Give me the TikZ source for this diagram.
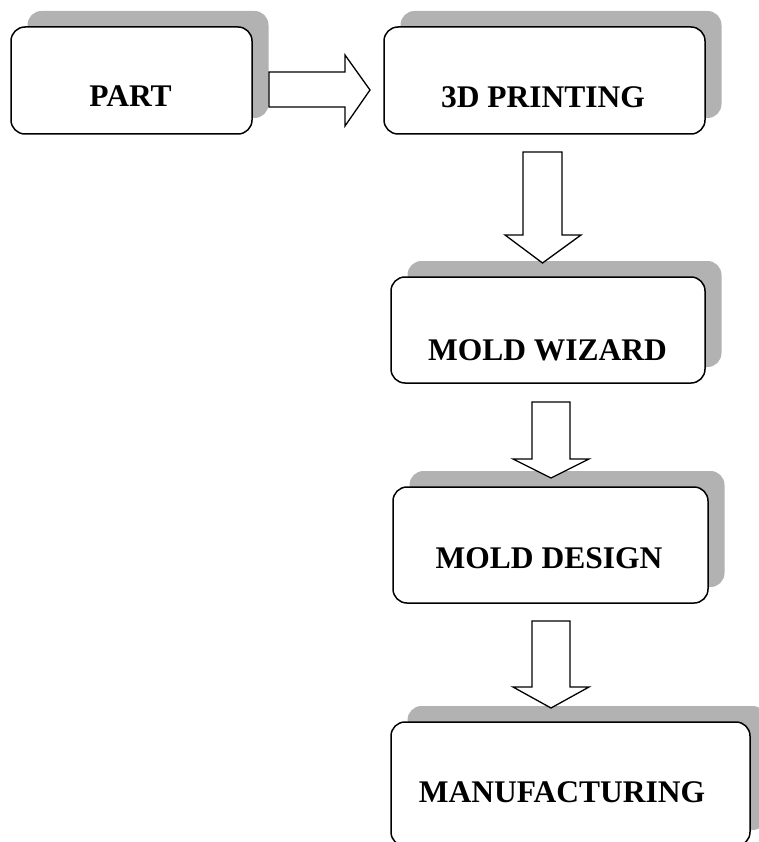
\documentclass[tikz,border=0pt]{standalone}
\usepackage{fontspec}
\setmainfont{Liberation Serif}
\usetikzlibrary{shadows,calc}
\definecolor{shadowgray}{RGB}{178,178,178}
\begin{document}
\begin{tikzpicture}[x=1pt,y=-1pt,
  stepbox/.style={draw=black, line width=1.5pt, fill=white, rounded corners=14pt,
    inner sep=0pt, drop shadow={shadow xshift=16.5pt, shadow yshift=16pt,
    fill=shadowgray, opacity=1}},
  lbl/.style={anchor=base, inner sep=0pt, font=\fontsize{31.5}{36}\selectfont\bfseries},
  blockarrow/.style={draw=black, line width=1.3pt, fill=white, line join=miter}]
\useasboundingbox (0,0) rectangle (759,842);
\clip (0,0) rectangle (759,842);
% boxes
\node[stepbox, minimum width=241pt, minimum height=107pt] (part) at (131.5,80.5) {};
\node[stepbox, minimum width=321pt, minimum height=107pt] (print) at (544.5,80.5) {};
\node[stepbox, minimum width=314pt, minimum height=106pt] (wizard) at (548,330) {};
\node[stepbox, minimum width=315pt, minimum height=116pt] (design) at (550.5,545) {};
\node[stepbox, minimum width=359pt, minimum height=124pt] (manuf) at (570.5,784) {};
% labels
\node[lbl] (tpart) at (130.5,107) {PART};
\node[lbl] (tprint) at (543,108) {3D PRINTING};
\node[lbl] (twizard) at (547.5,360) {MOLD WIZARD};
\node[lbl] (tdesign) at (549,568) {MOLD DESIGN};
\node[lbl] (tmanuf) at (562,802) {MANUFACTURING};
% block arrows
\draw[blockarrow] (269,72) -- (345,72) -- (345,55) -- (370,90) -- (345,126) -- (345,107) -- (269,107) -- cycle;
\draw[blockarrow] (523,152) -- (562,152) -- (562,235) -- (581,235) -- (542.5,263) -- (505,235) -- (523,235) -- cycle;
\draw[blockarrow] (532,402) -- (570,402) -- (570,459) -- (589,459) -- (551,478) -- (513,459) -- (532,459) -- cycle;
\draw[blockarrow] (532,621) -- (570,621) -- (570,687) -- (589,687) -- (551,708) -- (513,687) -- (532,687) -- cycle;
\end{tikzpicture}
\end{document}
